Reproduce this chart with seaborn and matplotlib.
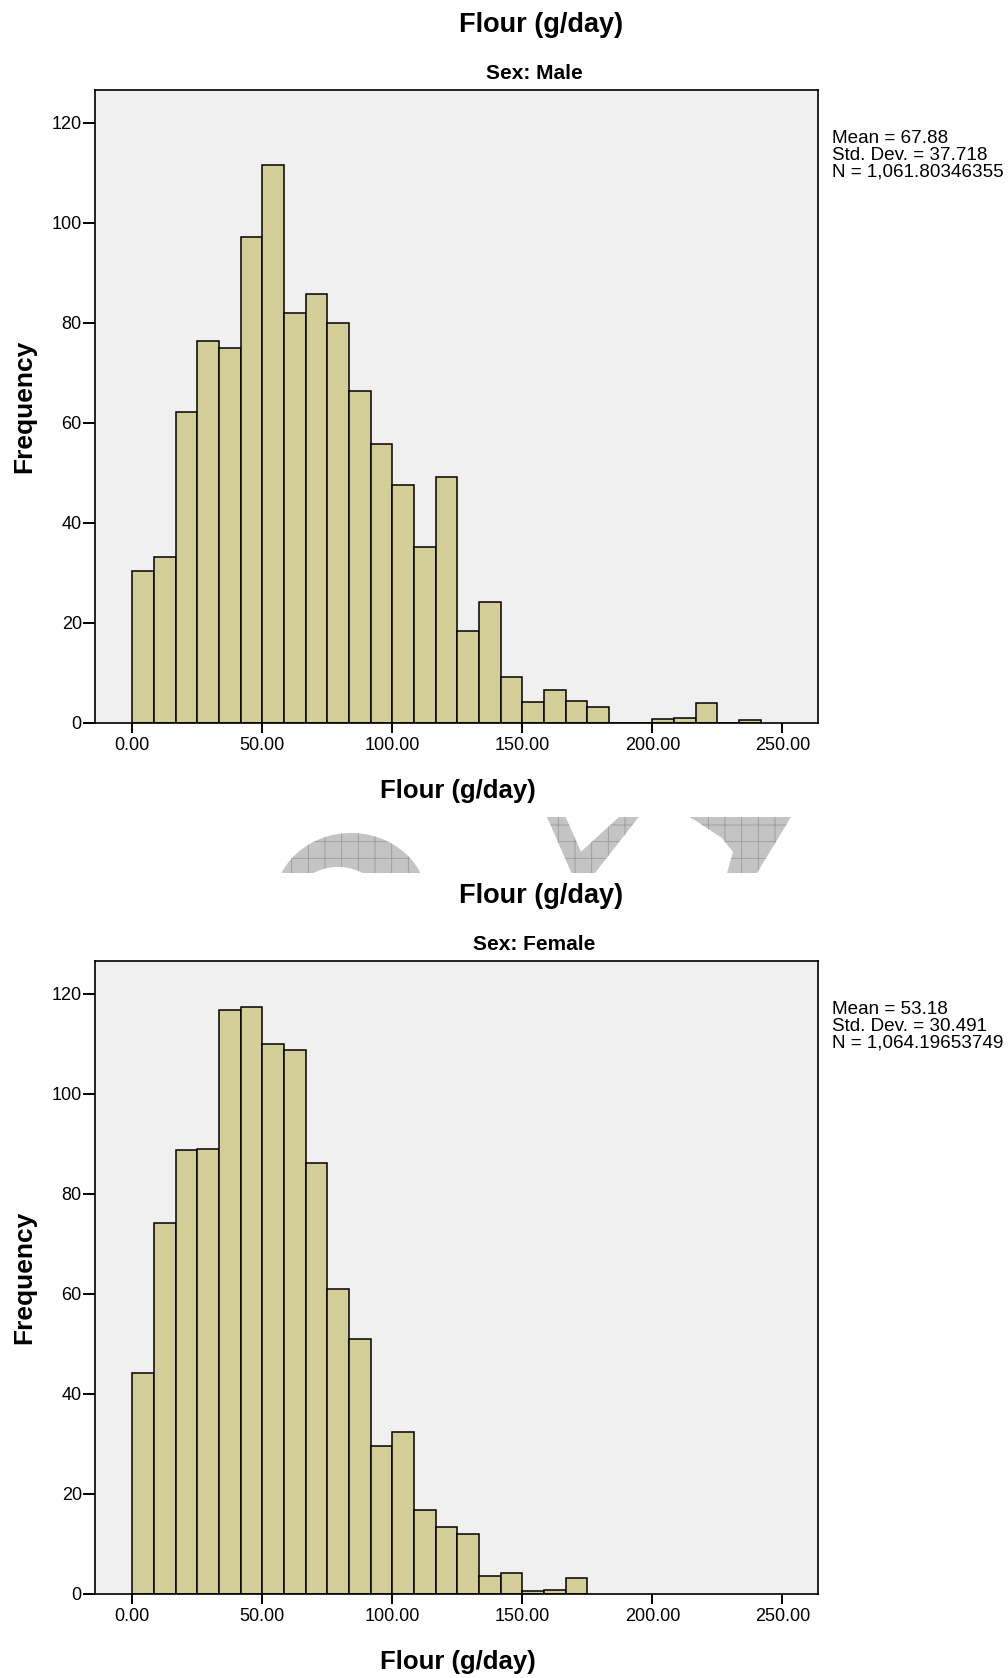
import numpy as np
import pandas as pd
import matplotlib
matplotlib.use("Agg")
import matplotlib.pyplot as plt
import matplotlib.patches as mpatches
import seaborn as sns

# weighted histogram counts (bin width 250/30 g/day, first bin starts at 0)
male_counts = [30.3, 33.1, 62.1, 76.4, 75.0, 97.2, 111.5, 81.9, 85.7, 79.9,
               66.4, 55.7, 47.6, 35.1, 49.1, 18.4, 24.2, 9.2, 4.1, 6.5,
               4.3, 3.1, 0, 0, 0.7, 0.9, 3.9, 0, 0.5]
female_counts = [44.1, 74.1, 88.8, 89.0, 116.7, 117.4, 110.0, 108.7, 86.2, 61.0,
                 50.9, 29.5, 32.4, 16.8, 13.3, 12.0, 3.5, 4.1, 0.5, 0.8, 3.1]
bin_width = 250 / 30

panels = ["Sex: Male", "Sex: Female"]
stats = [["Mean = 67.88", "Std. Dev. = 37.718", "N = 1,061.80346355"],
         ["Mean = 53.18", "Std. Dev. = 30.491", "N = 1,064.19653749"]]
xticks = [0, 50, 100, 150, 200, 250]
yticks = [0, 20, 40, 60, 80, 100, 120]

sns.set_style("white")
plt.rcParams['font.family'] = ['Liberation Sans', 'DejaVu Sans']
plt.rcParams['hatch.linewidth'] = 0.6
for k in ['text.color', 'axes.labelcolor', 'xtick.color', 'ytick.color']:
    plt.rcParams[k] = 'black'

W, H = 1008, 1678
fig = plt.figure(figsize=(W / 100, H / 100), dpi=100)


def fx(x):
    return x / W


def fy(y):
    return 1 - y / H


bar_color = "#D3CE98"
axes_tops = [90, 961]
ax_h = 632.5

for i, counts in enumerate([male_counts, female_counts]):
    top = axes_tops[i]
    ax = fig.add_axes([fx(95), fy(top + ax_h), (818 - 95) / W, ax_h / H])
    edges = np.arange(len(counts) + 1) * bin_width
    df = pd.DataFrame({"flour": edges[:-1] + bin_width / 2, "w": counts})
    sns.histplot(data=df, x="flour", weights="w", bins=list(edges), ax=ax,
                 color=bar_color, edgecolor="black", linewidth=1.1, alpha=1)
    ax.set_facecolor("#F0F0F0")
    ax.set_xlim(-14.35, 263.7)
    ax.set_ylim(0, 126.6)
    ax.set_xticks(xticks)
    ax.set_xticklabels(["%.2f" % t for t in xticks])
    ax.set_yticks(yticks)
    ax.set_xlabel("")
    ax.set_ylabel("")
    ax.tick_params(axis="x", direction="out", length=7.2, width=1.4,
                   labelsize=13, pad=3.5, bottom=True, colors="black")
    ax.tick_params(axis="y", direction="out", length=8.5, width=1.4,
                   labelsize=13, pad=1, left=True, colors="black")
    for s in ax.spines.values():
        s.set_color("black")
        s.set_linewidth(1.2)

    fig.text(fx(541), fy(top - 58.3), "Flour (g/day)", ha="center",
             va="baseline", fontsize=19.5, fontweight="bold")
    fig.text(fx(534.5), fy(top - 11), panels[i], ha="center",
             va="baseline", fontsize=15, fontweight="bold")
    fig.text(fx(458), fy(top + ax_h + 75.2), "Flour (g/day)", ha="center",
             va="baseline", fontsize=18.5, fontweight="bold")
    fig.text(fx(23.8), fy(top + ax_h / 2), "Frequency", ha="center",
             va="center", rotation=90, fontsize=19, fontweight="bold")
    for j, line in enumerate(stats[i]):
        fig.text(fx(831.5), fy(top + 53.3 + 16.7 * j), line, ha="left",
                 va="baseline", fontsize=13.6)

# watermark fragment showing between the two charts
band = mpatches.Rectangle((0, fy(873)), 1, fy(817) - fy(873),
                          transform=fig.transFigure, facecolor="none",
                          edgecolor="none")
fig.add_artist(band)
wm_kw = dict(transform=fig.transFigure, facecolor="#C4C4C4",
             edgecolor="#9A9A9A", hatch="+", linewidth=0)
shapes = [
    mpatches.Ellipse((fx(351), fy(903)), 2 * 77 / W, 2 * 70 / H, **wm_kw),
    mpatches.Polygon([(fx(547), fy(817)), (fx(565.6), fy(817)), (fx(581), fy(851.7)),
                      (fx(619), fy(817)), (fx(638.7), fy(817)), (fx(595), fy(873)),
                      (fx(571.5), fy(873))], closed=True, **wm_kw),
    mpatches.Polygon([(fx(690), fy(817)), (fx(791), fy(817)), (fx(757), fy(873)),
                      (fx(727), fy(873)), (fx(733), fy(852)), (fx(722), fy(838))],
                     closed=True, **wm_kw),
]
for shp in shapes:
    fig.add_artist(shp)
    shp.set_clip_path(band)
inner = mpatches.Ellipse((fx(338), fy(906)), 2 * 46 / W, 2 * 39 / H,
                         transform=fig.transFigure, facecolor="white",
                         edgecolor="none")
fig.add_artist(inner)
inner.set_clip_path(band)

fig.savefig("out.png", dpi=100)
